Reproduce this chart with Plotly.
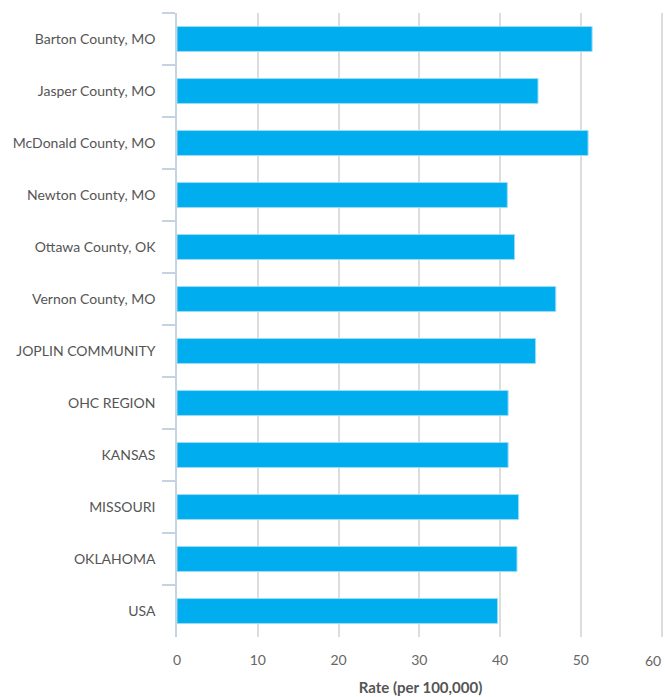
import plotly.graph_objects as go

categories = [
    "Barton County, MO", "Jasper County, MO", "McDonald County, MO",
    "Newton County, MO", "Ottawa County, OK", "Vernon County, MO",
    "JOPLIN COMMUNITY", "OHC REGION", "KANSAS", "MISSOURI", "OKLAHOMA", "USA",
]
rates = [51.4, 44.7, 50.9, 40.9, 41.8, 46.9, 44.4, 41.0, 41.0, 42.3, 42.1, 39.7]
x_ticks = [0, 10, 20, 30, 40, 50, 60]
x_tick_text = [str(v) for v in x_ticks[:-1]] + [""]

FONT = "'Source Sans Pro', Lato, sans-serif"

fig = go.Figure(go.Bar(
    x=rates, y=categories, orientation="h",
    marker=dict(color="#00AEEF", line=dict(color="#9fdcf5", width=1)),
    width=0.48,
))

fig.update_layout(
    width=665, height=697,
    margin=dict(l=177, r=1, t=13, b=60),
    plot_bgcolor="white", paper_bgcolor="white",
    showlegend=False,
    font=dict(family=FONT, size=14, color="#555555"),
)
# last tick label sits right-aligned to its gridline (as in the reference)
fig.add_annotation(
    x=x_ticks[-1], xref="x", y=0, yref="paper", text=str(x_ticks[-1]),
    showarrow=False, xanchor="right", yanchor="middle", yshift=-23, borderpad=0,
    font=dict(size=14, color="#666666"),
)
fig.update_xaxes(
    range=[0, 60.3], tickvals=x_ticks, ticktext=x_tick_text,
    showgrid=True, gridcolor="#dddddd", gridwidth=2,
    zeroline=False, showline=False, ticks="", ticklabelstandoff=13, automargin=False,
    tickfont=dict(size=14, color="#666666"),
    title=dict(text="<b>Rate (per 100,000)</b>", font=dict(size=15, color="#555555"), standoff=15),
)
fig.update_yaxes(
    autorange="reversed", showline=True, linecolor="#c4d3e3", linewidth=1.5,
    ticks="outside", tickson="boundaries", ticklen=13, tickcolor="#c4d3e3", tickwidth=1.5,
    showgrid=False, ticklabelstandoff=17, automargin=False,
    tickfont=dict(size=14, color="#555555"),
)

fig.write_html("out.html", config={"displayModeBar": False},
               post_script="document.body.style.margin='0';")
